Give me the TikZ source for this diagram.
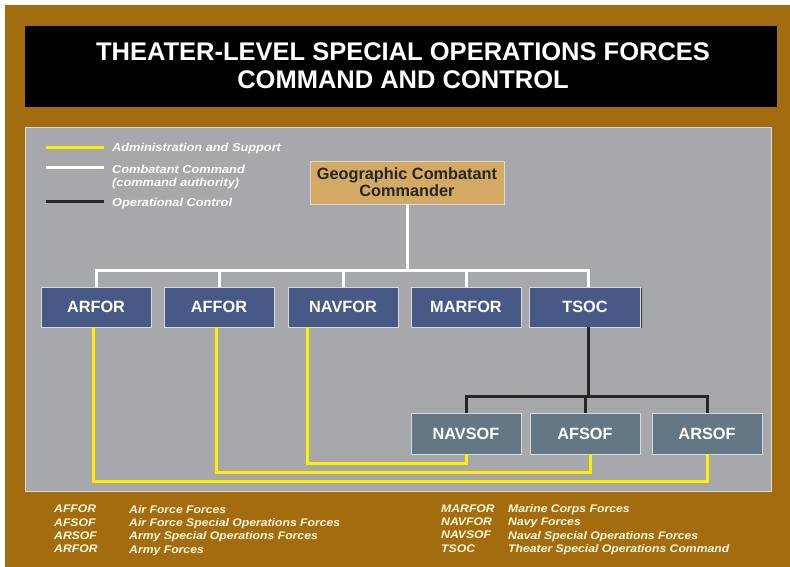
\documentclass[tikz,border=0pt]{standalone}
\usepackage{fontspec}
\setmainfont{Liberation Sans}
\newfontfamily\widefont[FakeStretch=1.11]{Liberation Sans}
\definecolor{brownbg}{RGB}{163,108,14}
\definecolor{panelgray}{RGB}{167,168,172}
\definecolor{boxblue}{RGB}{70,89,135}
\definecolor{boxslate}{RGB}{99,119,132}
\definecolor{boxtan}{RGB}{211,169,99}
\definecolor{admyellow}{RGB}{255,238,0}
\definecolor{footcream}{RGB}{255,248,225}
\tikzset{
  box/.style={draw=white!85!black, line width=0.7pt, minimum width=110pt, minimum height=40pt,
    inner sep=0pt, text=white, font=\bfseries\fontsize{16.3}{18}\selectfont,
    preaction={fill=black!75, transform canvas={shift={(1.3pt,-1.3pt)}}}},
  upperbox/.style={box, fill=boxblue},
  lowerbox/.style={box, fill=boxslate, minimum height=41pt},
  gccbox/.style={box, fill=boxtan, text=black!85, minimum width=194pt, minimum height=43pt,
    align=center, font=\bfseries\fontsize{16.3}{17}\selectfont},
  cmdline/.style={draw=white, line width=3pt},
  admline/.style={draw=admyellow, line width=3pt},
  opcline/.style={draw=black!85, line width=3pt},
  legtext/.style={anchor=west, inner sep=0pt, text=white, font=\widefont\bfseries\itshape\fontsize{11.5}{13}\selectfont},
  foottext/.style={anchor=north west, inner sep=0pt, text=footcream, align=left,
    font=\widefont\bfseries\itshape\fontsize{11}{13.3}\selectfont},
}
\begin{document}
\begin{tikzpicture}[x=1pt,y=-1pt]
\useasboundingbox (0,0) rectangle (790,567);
\fill[white] (0,0) rectangle (790,567);
\fill[brownbg] (5,5) rectangle (790,567);
% title
\fill[black] (25,26) rectangle (777,107);
\node[text=white, align=center, font=\bfseries\fontsize{25.5}{28.5}\selectfont, inner sep=0pt] (title) at (403,65.5)
  {THEATER-LEVEL SPECIAL OPERATIONS FORCES\\COMMAND AND CONTROL};
% panel
\fill[panelgray, draw=white!85!black, line width=0.8pt] (25,127) rectangle (771,491);
% legend
\coordinate (la1) at (46,148); \coordinate (la2) at (104,148);
\coordinate (lc1) at (46,168); \coordinate (lc2) at (104,168);
\coordinate (lo1) at (46,201); \coordinate (lo2) at (104,201);
\draw[admline] (la1) -- (la2);
\draw[cmdline] (lc1) -- (lc2);
\draw[opcline] (lo1) -- (lo2);
\node[legtext] (lat) at (112,148.5) {Administration and Support};
\node[legtext] (lct) at (112,169) {Combatant Command};
\node[legtext] (lct2) at (112,184) {(command authority)};
\node[legtext] (lot) at (112,203.5) {Operational Control};
% nodes
\node[gccbox] (gcc) at (407,182.5) {Geographic Combatant\\Commander};
\node[upperbox] (arfor) at (96,307) {ARFOR};
\node[upperbox] (affor) at (219,307) {AFFOR};
\node[upperbox] (navfor) at (343,307) {NAVFOR};
\node[upperbox] (marfor) at (466,307) {MARFOR};
\node[upperbox, minimum width=111pt] (tsoc) at (585,307) {TSOC};
\node[lowerbox] (navsof) at (466,433.5) {NAVSOF};
\node[lowerbox] (afsof) at (585,433.5) {AFSOF};
\node[lowerbox] (arsof) at (707,433.5) {ARSOF};
% command lines
\coordinate (bar) at (0,270);
\draw[cmdline] (gcc.south) -- (gcc.south |- bar);
\draw[cmdline] (arfor.north) -- (arfor.north |- bar) -- ([xshift=3pt]tsoc.north |- bar) -- ([xshift=3pt]tsoc.north);
\draw[cmdline] (affor.north) -- (affor.north |- bar);
\draw[cmdline] (navfor.north) -- (navfor.north |- bar);
\draw[cmdline] (marfor.north) -- (marfor.north |- bar);
% operational control
\coordinate (obar) at (0,396);
\draw[opcline] ([xshift=3pt]tsoc.south) -- ([xshift=3pt]tsoc.south |- obar);
\draw[opcline] (navsof.north) -- (navsof.north |- obar) -- (arsof.north |- obar) -- (arsof.north);
\draw[opcline] (afsof.north) -- (afsof.north |- obar);
% administration and support
\coordinate (y1) at (0,481);
\coordinate (y2) at (0,472);
\coordinate (y3) at (0,463);
\draw[admline] ([xshift=-3pt]arfor.south) -- ([xshift=-3pt]arfor.south |- y1) -- (arsof.south |- y1) -- (arsof.south);
\draw[admline] ([xshift=-3pt]affor.south) -- ([xshift=-3pt]affor.south |- y2) -- ([xshift=5pt]afsof.south |- y2) -- ([xshift=5pt]afsof.south);
\draw[admline] ([xshift=-36pt]navfor.south) -- ([xshift=-36pt]navfor.south |- y3) -- (navsof.south |- y3) -- (navsof.south);
% footnotes
\node[foottext] (fa) at (54,505) {AFFOR\\AFSOF\\ARSOF\\ARFOR};
\node[foottext] (fb) at (129,505) {Air Force Forces\\Air Force Special Operations Forces\\Army Special Operations Forces\\Army Forces};
\node[foottext] (fc) at (441,504.5) {MARFOR\\NAVFOR\\NAVSOF\\TSOC};
\node[foottext] (fd) at (508,504.5) {Marine Corps Forces\\Navy Forces\\Naval Special Operations Forces\\Theater Special Operations Command};
\end{tikzpicture}
\end{document}
